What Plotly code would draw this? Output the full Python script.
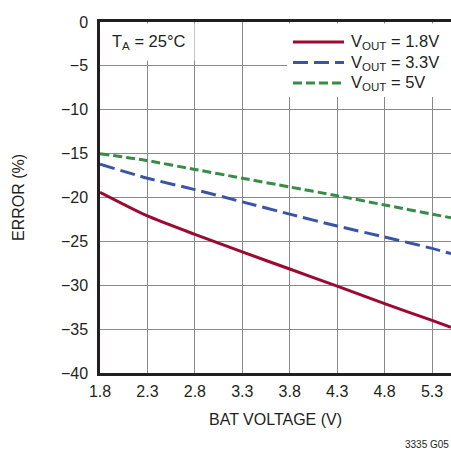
import plotly.graph_objects as go

bat_voltage = [1.8, 2.3, 2.8, 3.3, 3.8, 4.3, 4.8, 5.3, 5.5]
err_vout_1v8 = [-19.4, -22.1, -24.2, -26.2, -28.15, -30.1, -32.1, -34.0, -34.8]
err_vout_3v3 = [-16.2, -17.8, -19.1, -20.5, -21.9, -23.25, -24.5, -25.8, -26.4]
err_vout_5v = [-15.0, -15.8, -16.8, -17.8, -18.8, -19.8, -20.85, -21.9, -22.3]

series_names = ["V<sub>OUT</sub> = 1.8V", "V<sub>OUT</sub> = 3.3V", "V<sub>OUT</sub> = 5V"]
x_ticks = [1.8, 2.3, 2.8, 3.3, 3.8, 4.3, 4.8, 5.3]
y_ticks = [0, -5, -10, -15, -20, -25, -30, -35, -40]

FONT = "Liberation Sans, Arial, sans-serif"
TXT = "#231f20"
COLORS = ["#9c0a32", "#3a55a8", "#378c46"]
DASHES = ["solid", "15px,6px", "9px,4px"]

W, H = 451, 453
L, R, T, B = 100, 0, 22, 80
PW, PH = W - L - R, H - T - B

def px_x(p):
    return (p - L) / PW

def px_y(p):
    return (T + PH - p) / PH

fig = go.Figure()
for ys, nm, c, d in zip([err_vout_1v8, err_vout_3v3, err_vout_5v], series_names, COLORS, DASHES):
    fig.add_trace(go.Scatter(x=bat_voltage, y=ys, mode="lines", name=nm,
                             line=dict(color=c, width=3, dash=d, shape="spline", smoothing=0.6)))

fig.update_layout(
    width=W, height=H,
    margin=dict(l=L, r=R, t=T, b=B),
    paper_bgcolor="white", plot_bgcolor="white",
    font=dict(family=FONT, size=16, color=TXT),
    showlegend=False,
)

fig.update_xaxes(
    range=[1.8, 5.5], tickvals=x_ticks, ticktext=[f"{v:.1f}" for v in x_ticks],
    showgrid=True, gridcolor="#8a8a8a", gridwidth=1,
    showline=True, linecolor="#231f20", linewidth=2.5, mirror=True,
    ticks="", zeroline=False, ticklabelstandoff=2,
    title=dict(text="BAT VOLTAGE (V)", standoff=15, font=dict(family=FONT, size=16)),
    tickfont=dict(family=FONT, size=16),
)
fig.update_yaxes(
    range=[-40, 0], tickvals=y_ticks, ticktext=[("\u2212" + str(-v)) if v < 0 else str(v) for v in y_ticks],
    showgrid=True, gridcolor="#8a8a8a", gridwidth=1,
    showline=True, linecolor="#231f20", linewidth=2.5, mirror=False,
    ticks="", zeroline=False, ticklabelstandoff=6,
    title=dict(text="ERROR (%)", standoff=33, font=dict(family=FONT, size=16)),
    tickfont=dict(family=FONT, size=16),
)

# T_A label with white background
fig.add_annotation(x=0, y=1, xref="paper", yref="paper", xanchor="left", yanchor="top",
                   text="T<sub>A</sub> = 25°C", showarrow=False,
                   bgcolor="white", borderpad=8, font=dict(family=FONT, size=16.5, color=TXT),
                   xshift=3, yshift=-1)

# custom legend box
fig.add_shape(type="rect", xref="paper", yref="paper", layer="above",
              x0=px_x(287), x1=1.0, y0=px_y(97), y1=px_y(23.5),
              fillcolor="white", line=dict(width=0))
for i, (nm, c, d) in enumerate(zip(series_names, COLORS, DASHES)):
    yc = 42 + i * 20.5
    fig.add_shape(type="line", xref="paper", yref="paper", layer="above",
                  x0=px_x(293), x1=px_x(344), y0=px_y(yc), y1=px_y(yc),
                  line=dict(color=c, width=3, dash=d))
    fig.add_annotation(x=px_x(349), y=px_y(yc), xref="paper", yref="paper",
                       xanchor="left", yanchor="middle", text=nm, showarrow=False,
                       font=dict(family=FONT, size=16.5, color=TXT), yshift=0)

fig.add_annotation(x=1, y=0, xref="paper", yref="paper", xanchor="right", yanchor="top",
                   text="3335 G05", showarrow=False, font=dict(family=FONT, size=10, color=TXT),
                   yshift=-64)

fig.write_html("out.html", config={"displayModeBar": False})
with open("out.html", "r", encoding="utf-8") as f:
    html = f.read()
html = html.replace("<body>", '<body style="margin:0;overflow:hidden">', 1)
with open("out.html", "w", encoding="utf-8") as f:
    f.write(html)
